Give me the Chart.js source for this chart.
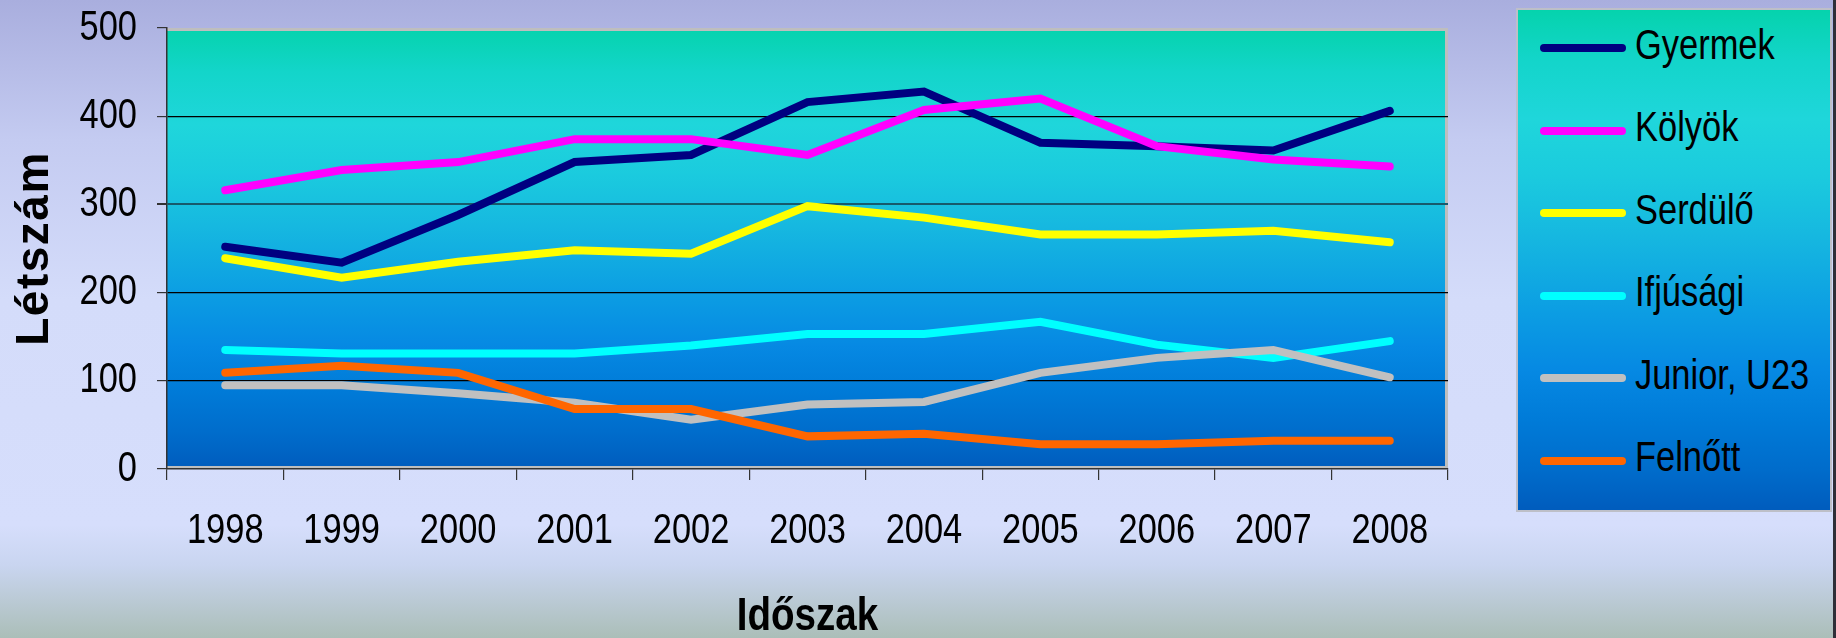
<!DOCTYPE html>
<html>
<head>
<meta charset="utf-8">
<script src="https://cdn.jsdelivr.net/npm/chart.js@4.4.1/dist/chart.umd.min.js"></script>
<style>
  html, body { margin: 0; padding: 0; }
  body {
    width: 1836px; height: 638px; overflow: hidden; position: relative;
    background: linear-gradient(to bottom, #A9AEDE 0px, #C4CBF1 140px, #D4DCFA 300px, #D6DEFC 525px, #C9D5F0 565px, #ABBEB8 638px);
  }
  #chart { position: absolute; left: 0; top: 0; }
  #edge { position: absolute; right: 0; top: 0; width: 3px; height: 638px; background: #2E2F38; }
  #legend {
    position: absolute; left: 1516px; top: 8px; width: 312px; height: 500px;
    border: 2px solid #BDBFC8;
    background: linear-gradient(to bottom, #05D3AD 0%, #13D5CA 10%, #1FD6DB 22%, #1BCBDE 33%, #16B8E0 45%, #0C9EE3 60%, #0689E3 72%, #007BD8 82%, #006CCB 92%, #005CBD 100%);
  }
  .row { position: absolute; left: 0; height: 83px; display: flex; align-items: center; }
  .sw { margin-left: 22px; width: 86px; height: 8px; border-radius: 4px; position: relative; top: 3.5px; flex: none; }
  .lab { margin-left: 9px; font-family: 'Liberation Sans Narrow', 'Arial Narrow', 'Liberation Sans', Arial, sans-serif; font-size: 42px; line-height: 1; color: #000; white-space: nowrap; transform: scaleX(0.82); transform-origin: left center; }
</style>
</head>
<body>
<canvas id="chart" width="1836" height="638"></canvas>
<div id="legend"></div>
<div id="edge"></div>
<script>
// ---- data ----
const categories = ['1998', '1999', '2000', '2001', '2002', '2003', '2004', '2005', '2006', '2007', '2008'];
const seriesNames = ['Gyermek', 'Kölyök', 'Serdülő', 'Ifjúsági', 'Junior, U23', 'Felnőtt'];
const gyermek  = [252, 234, 288, 348, 356, 416, 428, 370, 366, 361, 406];
const kolyok   = [316, 339, 348, 374, 374, 356, 407, 420, 366, 351, 343];
const serdulo  = [239, 217, 235, 248, 244, 298, 285, 266, 266, 270, 257];
const ifjusagi = [135, 131, 131, 131, 140, 153, 153, 167, 141, 126, 145];
const junior   = [95, 95, 86, 75, 56, 73, 76, 109, 126, 135, 104];
const felnott  = [109, 117, 109, 68, 68, 37, 40, 28, 28, 32, 32];
const yTicks = [0, 100, 200, 300, 400, 500];
const xTitle = 'Időszak';
const yTitle = 'Létszám';

const seriesValues = [gyermek, kolyok, serdulo, ifjusagi, junior, felnott];
const seriesColors = ['#000080', '#FF00FF', '#FFFF00', '#00FFFF', '#C0C0C0', '#FF6600'];

const NARROW = "'Liberation Sans Narrow', 'Arial Narrow', 'Liberation Sans', Arial, sans-serif";
const SANS = "'Liberation Sans', Arial, sans-serif";

// Narrow text emulation: text set in the "Narrow" family is drawn horizontally condensed;
// other (title) text gets a little letter spacing
const canvas = document.getElementById('chart');
const ctx2d = canvas.getContext('2d');
const origFillText = ctx2d.fillText;
ctx2d.fillText = function (text, x, y, maxWidth) {
  if (String(this.font).indexOf('Narrow') !== -1) {
    this.save();
    this.translate(x, y);
    this.scale(0.82, 1);
    origFillText.call(this, text, 0, 0);
    this.restore();
  } else {
    this.save();
    if ('letterSpacing' in this) this.letterSpacing = '1.5px';
    origFillText.call(this, text, x, y);
    this.restore();
  }
};

const plotBg = {
  id: 'plotBg',
  beforeDraw(chart) {
    const { ctx, chartArea: { left, top, right, bottom } } = chart;
    const g = ctx.createLinearGradient(0, top, 0, bottom);
    g.addColorStop(0, '#05D3AD');
    g.addColorStop(0.10, '#13D5CA');
    g.addColorStop(0.22, '#1FD6DB');
    g.addColorStop(0.33, '#1BCBDE');
    g.addColorStop(0.45, '#16B8E0');
    g.addColorStop(0.60, '#0C9EE3');
    g.addColorStop(0.72, '#0689E3');
    g.addColorStop(0.82, '#007BD8');
    g.addColorStop(0.92, '#006CCB');
    g.addColorStop(1, '#005CBD');
    ctx.save();
    ctx.fillStyle = g;
    ctx.fillRect(left, top, right - left, bottom - top);
    ctx.strokeStyle = '#BEBEBE';
    ctx.lineWidth = 3;
    ctx.beginPath();
    ctx.moveTo(left, top + 1.5);
    ctx.lineTo(right - 1.5, top + 1.5);
    ctx.lineTo(right - 1.5, bottom - 1.5);
    ctx.lineTo(left, bottom - 1.5);
    ctx.stroke();
    ctx.restore();
  }
};

const datasets = seriesNames.map((name, i) => ({
  label: name,
  data: seriesValues[i],
  borderColor: seriesColors[i],
  backgroundColor: seriesColors[i],
  borderWidth: 8,
  borderCapStyle: 'round',
  borderJoinStyle: 'miter',
  pointRadius: 0,
  pointHoverRadius: 0,
  tension: 0,
  fill: false,
  order: seriesNames.length - i
}));

const chart = new Chart(canvas, {
  type: 'line',
  data: { labels: categories, datasets },
  plugins: [plotBg],
  options: {
    responsive: false,
    devicePixelRatio: 1,
    animation: false,
    events: [],
    layout: { padding: { left: 0, right: 388, top: 28, bottom: 0 } },
    plugins: { legend: { display: false }, tooltip: { enabled: false } },
    scales: {
      x: {
        type: 'category',
        offset: true,
        grid: { offset: true, drawOnChartArea: false, drawTicks: true, tickLength: 11, tickColor: '#333', lineWidth: 1.2 },
        border: { display: true, color: '#333', width: 1.5 },
        ticks: { color: '#000', font: { family: NARROW, size: 42 }, padding: 26, maxRotation: 0, autoSkip: false },
        title: { display: true, text: xTitle, color: '#000', font: { family: NARROW, size: 47, weight: 'bold', lineHeight: 0.9 }, padding: 0 },
        afterFit(s) { s.height = 169; s.paddingLeft = 0; s.paddingRight = 0; }
      },
      y: {
        min: yTicks[0],
        max: yTicks[yTicks.length - 1],
        afterBuildTicks(s) { s.ticks = yTicks.map(v => ({ value: v })); },
        ticks: { color: '#000', font: { family: NARROW, size: 42 }, padding: 20 },
        grid: {
          color: c => {
            if (!c.tick) return '#000';
            const v = c.tick.value;
            if (v === yTicks[0] || v === yTicks[yTicks.length - 1]) return 'rgba(0,0,0,0)';
            return v === 300 ? '#175A6C' : '#000';
          },
          lineWidth: c => (c.tick && c.tick.value === 300) ? 2 : 1.2,
          tickColor: '#333', tickLength: 10
        },
        border: { display: true, color: '#333', width: 1.5 },
        title: { display: true, text: yTitle, color: '#000', font: { family: SANS, size: 46, weight: 'bold', lineHeight: 1 }, padding: { top: 12, bottom: 0 } },
        afterFit(s) { s.width = 167; s.paddingTop = 0; s.paddingBottom = 0; }
      }
    }
  }
});

// HTML legend built from the chart's datasets
const legend = document.getElementById('legend');
chart.data.datasets.forEach((ds, i) => {
  const row = document.createElement('div');
  row.className = 'row';
  row.style.top = (-7 + i * 82.5) + 'px';
  const sw = document.createElement('div');
  sw.className = 'sw';
  sw.style.background = ds.borderColor;
  const lab = document.createElement('span');
  lab.className = 'lab';
  lab.textContent = ds.label;
  row.appendChild(sw);
  row.appendChild(lab);
  legend.appendChild(row);
});
</script>
</body>
</html>
